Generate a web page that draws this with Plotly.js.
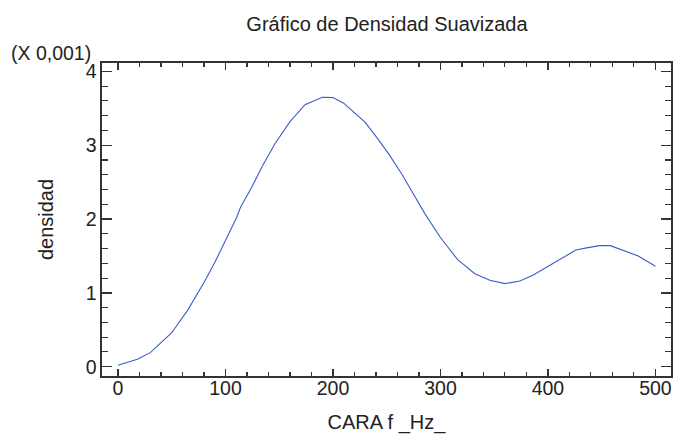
<!DOCTYPE html>
<html>
<head>
<meta charset="utf-8">
<script src="https://cdn.plot.ly/plotly-3.0.1.min.js"></script>
<style>
  html, body { margin: 0; padding: 0; background: #fff; }
  #chart { width: 673px; height: 437px; }
</style>
</head>
<body>
<div id="chart"></div>
<script>
// Smoothed density estimate of CARA f (Hz); density in units of 0.001
const freqHz = [0, 18, 30, 50, 65, 80, 90, 100, 110, 114, 124, 134, 146, 160, 174, 190, 200, 210,
  230, 240, 252, 264, 276, 286, 300, 316, 332, 346, 360, 374, 386, 400, 410, 426, 436, 448, 458,
  470, 484, 500];
const density = [0.02, 0.10, 0.19, 0.46, 0.77, 1.14, 1.41, 1.72, 2.01, 2.16, 2.42, 2.71, 3.02, 3.32,
  3.55, 3.65, 3.645, 3.57, 3.31, 3.12, 2.88, 2.61, 2.31, 2.06, 1.75, 1.45, 1.26, 1.17, 1.125, 1.16,
  1.24, 1.36, 1.45, 1.58, 1.61, 1.64, 1.64, 1.58, 1.50, 1.36];

const chartTitle = 'Gráfico de Densidad Suavizada';
const xTitle = 'CARA f _Hz_';
const yTitle = 'densidad';
const scaleNote = '(X 0,001)';

const fontFamily = 'Liberation Sans, Arial, sans-serif';
const textFont = { family: fontFamily, size: 19.5, color: '#222' };
const axisColor = '#333';

const trace = {
  x: freqHz,
  y: density,
  type: 'scatter',
  mode: 'lines',
  line: { color: '#3c5ccc', width: 1.1 },
  hoverinfo: 'x+y'
};

const layout = {
  width: 673,
  height: 437,
  margin: { l: 102, r: 2, t: 63, b: 61 },
  paper_bgcolor: '#fff',
  plot_bgcolor: '#fff',
  showlegend: false,
  font: textFont,
  title: {
    text: chartTitle,
    font: { family: fontFamily, size: 20, color: '#222' },
    x: 0.575, xanchor: 'center',
    y: 0.945, yanchor: 'middle'
  },
  xaxis: {
    range: [-14.9, 514.5],
    tickmode: 'array',
    tickvals: [0, 100, 200, 300, 400, 500],
    ticks: 'inside', ticklen: 7, tickwidth: 1.3, tickcolor: axisColor,
    minor: { dtick: 20, tick0: 0, ticks: 'inside', ticklen: 4, tickwidth: 1.1, tickcolor: axisColor },
    showline: true, linecolor: axisColor, linewidth: 1.6, mirror: 'allticks',
    showgrid: false, zeroline: false,
    tickfont: textFont,
    ticklabelstandoff: -6,
    title: { text: xTitle, font: { family: fontFamily, size: 20, color: '#222' }, standoff: 17 }
  },
  yaxis: {
    range: [-0.126, 4.114],
    tickmode: 'array',
    tickvals: [0, 1, 2, 3, 4],
    ticks: 'inside', ticklen: 10, tickwidth: 1.3, tickcolor: axisColor,
    minor: { dtick: 0.2, tick0: 0, ticks: 'inside', ticklen: 6, tickwidth: 1.1, tickcolor: axisColor },
    showline: true, linecolor: axisColor, linewidth: 1.6, mirror: 'allticks',
    showgrid: false, zeroline: false,
    tickfont: textFont,
    title: { text: yTitle, font: { family: fontFamily, size: 20, color: '#222' }, standoff: 26 }
  },
  annotations: [{
    text: scaleNote,
    xref: 'paper', yref: 'paper',
    x: -0.016, xanchor: 'right',
    y: 1.0, yanchor: 'bottom', yshift: -3,
    showarrow: false,
    font: textFont
  }]
};

Plotly.newPlot('chart', [trace], layout, { displayModeBar: false, staticPlot: true });
</script>
</body>
</html>
